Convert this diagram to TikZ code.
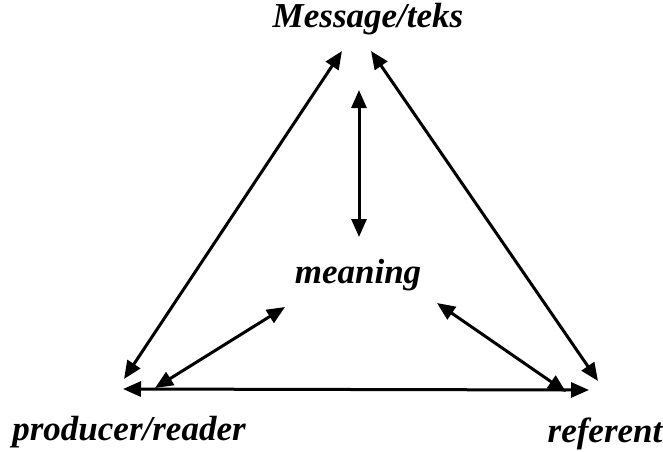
\documentclass[tikz,border=0pt]{standalone}
\usepackage{fontspec}
\setmainfont{Liberation Serif}
\usetikzlibrary{arrows.meta}
\begin{document}
\begin{tikzpicture}[x=1pt,y=-1pt,
  lbl/.style={font=\fontsize{35}{40}\selectfont\bfseries\itshape, inner sep=0pt, anchor=base},
  link/.style={line width=3pt, {Triangle[length=18pt,width=15pt]}-{Triangle[length=18pt,width=15pt]}}]
\useasboundingbox (0,0) rectangle (663,451);
\node[lbl] (msg) at (368,27) {Message/teks};
\node[lbl] (mean) at (358,283) {meaning};
\node[lbl] (prod) at (129,440) {producer/reader};
\node[lbl] (ref) at (605,442) {referent};
% endpoints
\coordinate (mL) at (342,51);
\coordinate (mR) at (371,51);
\coordinate (mV) at (359,90);
\coordinate (nT) at (359,237);
\coordinate (nL) at (285,307);
\coordinate (nR) at (437,303);
\coordinate (pS) at (124,379);
\coordinate (pH) at (123,389);
\coordinate (pM) at (155,388);
\coordinate (rS) at (598,381);
\coordinate (rH) at (589,390);
\coordinate (rM) at (566,392);
\draw[link] (mL) -- (pS);
\draw[link] (mR) -- (rS);
\draw[link] (mV) -- (nT);
\draw[link] (pH) -- (rH);
\draw[link] (pM) -- (nL);
\draw[link] (nR) -- (rM);
\end{tikzpicture}
\end{document}
